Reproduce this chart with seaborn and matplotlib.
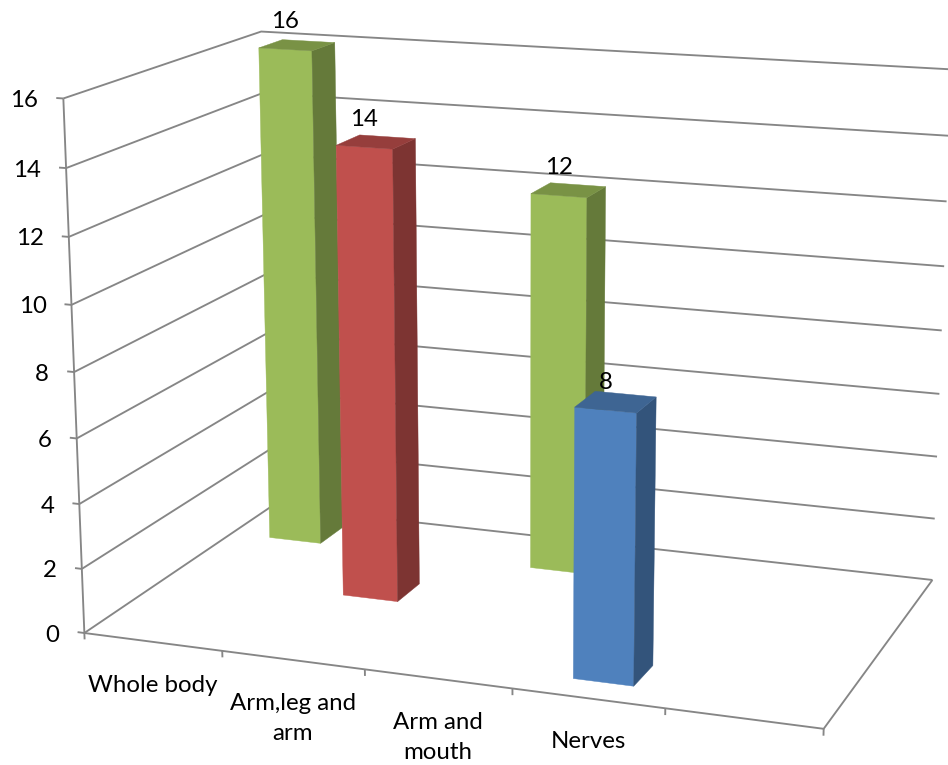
import numpy as np
import matplotlib
matplotlib.use("Agg")
import matplotlib.pyplot as plt
import seaborn as sns

# Chart data
categories = ["Whole body", "Arm,leg and\narm", "Arm and\nmouth", "Nerves"]
values = [16, 14, 12, 8]
series_rows = [2, 1, 2, 0]          # row of each bar along the depth axis, 0 = front
row_colors = ["#4F81BD", "#C0504D", "#9BBB59"]
value_ticks = [0, 2, 4, 6, 8, 10, 12, 14, 16]
n_slots = 5                         # the category axis has one empty slot on the right
n_rows = 3

# Perspective camera: homogeneous (category, depth, value, 1) -> canvas pixels
CAMERA = np.array([
    [1.34199494e+02, 7.44269615e+01, -1.49572808e+00, 8.43525340e+01],
    [7.06994151e+00, -1.98810170e+01, -3.36934720e+01, 6.33007195e+02],
    [-1.65890521e-02, 4.41701987e-02, -2.88851882e-03, 1.00000000e+00],
])
BAR_MARGIN = 0.3                    # gap on each side of a bar, in slot units
LINE = "#868686"
LINE_W = 1.35
FONT_SIZE = 17.3

sns.set_style("white")
plt.rcParams["font.family"] = ["Lato", "DejaVu Sans"]
palette = sns.color_palette(row_colors)


def project(x, y, z):
    q = CAMERA @ np.array([x, y, z, 1.0])
    return q[0] / q[2], q[1] / q[2]


def polyline(ax, points, **kw):
    xy = np.array([project(*p) for p in points])
    ax.plot(xy[:, 0], xy[:, 1], color=LINE, lw=LINE_W, solid_capstyle="butt", **kw)


def shade(color, factor):
    return tuple(c * factor for c in color)


def box(ax, cat, row, value, color):
    x0, x1 = cat + BAR_MARGIN, cat + 1 - BAR_MARGIN
    y0, y1 = row + BAR_MARGIN, row + 1 - BAR_MARGIN
    faces = [
        ([(x0, y0, 0), (x1, y0, 0), (x1, y0, value), (x0, y0, value)], color),
        ([(x1, y0, 0), (x1, y1, 0), (x1, y1, value), (x1, y0, value)], shade(color, 0.65)),
        ([(x0, y0, value), (x1, y0, value), (x1, y1, value), (x0, y1, value)], shade(color, 0.78)),
    ]
    for corners, fc in faces:
        xy = np.array([project(*c) for c in corners])
        ax.fill(xy[:, 0], xy[:, 1], facecolor=fc, edgecolor=fc, lw=0.3, zorder=3)


fig = plt.figure(figsize=(9.48, 7.65), dpi=100)
ax = fig.add_axes([0, 0, 1, 1])
ax.set_xlim(0, 948)
ax.set_ylim(765, 0)
ax.axis("off")

# Walls, floor outline and ticks
for v in value_ticks:
    polyline(ax, [(0, 0, v), (0, n_rows, v), (n_slots, n_rows, v)], zorder=1)
    polyline(ax, [(-0.05, 0, v), (0, 0, v)], zorder=1)
    u, w = project(0, 0, v)
    ax.text(u - 25, w + 2, str(v), ha="right", va="center", fontsize=FONT_SIZE, color="black")
polyline(ax, [(0, 0, 0), (0, 0, value_ticks[-1])], zorder=1)
polyline(ax, [(n_slots, n_rows, 0), (n_slots, 0, 0), (0, 0, 0)], zorder=1)
for k in range(n_slots + 1):
    polyline(ax, [(k, 0, 0), (k, 0, -0.2)], zorder=1)

# Category labels under the front edge of the floor
for k, name in enumerate(categories):
    u, w = project(k + 0.5, 0, 0)
    ax.text(u, w + 33, name, ha="center", va="top", fontsize=FONT_SIZE, color="black",
            linespacing=1.55)

# Bars, painted from the back row forward
for k in sorted(range(len(values)), key=lambda i: (-series_rows[i], i)):
    box(ax, k, series_rows[k], values[k], palette[series_rows[k]])

# Value labels above each bar
for k, v in enumerate(values):
    u, w = project(k + 0.5, series_rows[k] + BAR_MARGIN, v)
    ax.text(u, w - 28, str(v), ha="center", va="center", fontsize=FONT_SIZE,
            color="black", zorder=5)

fig.savefig("out.png", dpi=100, facecolor="white")
